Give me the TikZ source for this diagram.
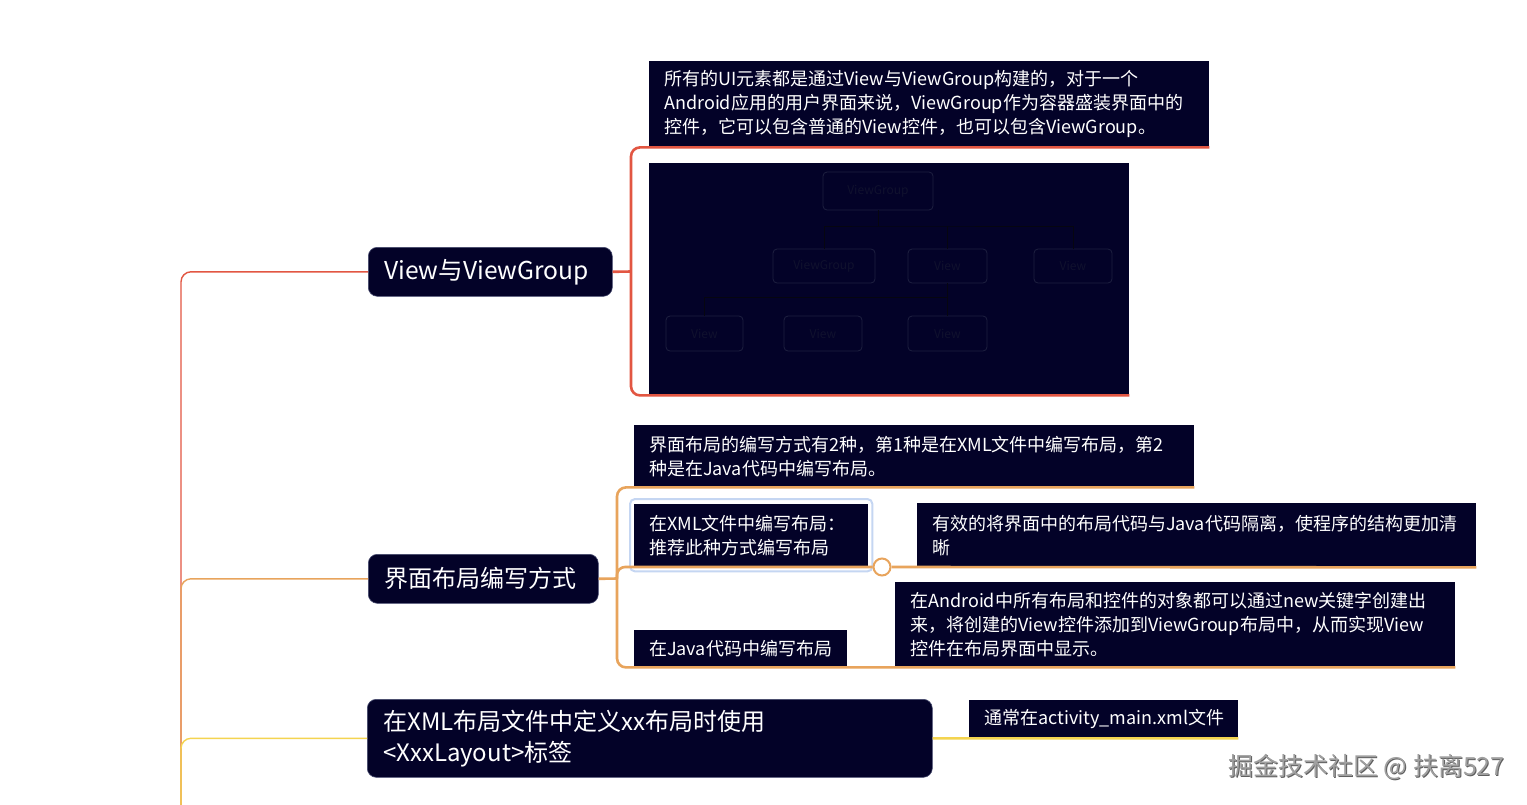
\documentclass[tikz,border=0pt]{standalone}
\usepackage{fontspec}
\setmainfont{Noto Sans CJK SC}
\usetikzlibrary{calc}
\definecolor{navy}{RGB}{3,2,40}
\definecolor{brred}{RGB}{226,86,66}
\definecolor{brorange}{RGB}{232,164,92}
\definecolor{bryellow}{RGB}{244,212,80}
\definecolor{hlblue}{RGB}{197,214,242}
\definecolor{treebox}{RGB}{30,32,64}
\definecolor{treeline}{RGB}{6,6,16}
\definecolor{treetext}{RGB}{16,17,46}
\definecolor{topicedge}{RGB}{70,74,110}
\definecolor{wmgray}{RGB}{160,160,160}
\definecolor{wmshadow}{RGB}{95,95,95}
\tikzset{
  topic/.style={fill=navy, draw=topicedge, line width=0.6, rounded corners=9,
    text=white, font=\fontsize{24}{31}\selectfont, anchor=north west,
    inner xsep=16, inner ysep=0, align=left},
  leaf/.style={fill=navy, text=white, font=\fontsize{18}{24}\selectfont,
    anchor=north west, inner xsep=15, inner ysep=0, align=left},
  trunk/.style={line width=1.4, rounded corners=10},
  branch/.style={line width=2.6, rounded corners=9},
  treebx/.style={draw=treebox, line width=0.8, rounded corners=4, text=treetext,
    font=\fontsize{12}{12}\selectfont, inner sep=0},
  treeln/.style={draw=treeline, line width=1},
  hl/.style={draw=hlblue, line width=2, rounded corners=5},
}
\begin{document}
\begin{tikzpicture}[x=1pt,y=-1pt]
\useasboundingbox (0,0) rectangle (1527,804);
\fill[white] (0,0) rectangle (1527,804);

% topics
\node[topic, text width=212, minimum height=49] (v1) at (368,247) {\fontsize{24.6}{31}\selectfont View与ViewGroup};
\node[topic, text width=198, minimum height=49] (n2) at (368,554) {界面布局编写方式};
\node[topic, text width=533, minimum height=78] (n3) at (367,699) {在XML布局文件中定义xx布局时使用\\<XxxLayout>标签};

% leaves of topic 1
\node[leaf, text width=530, minimum height=86] (d1) at (649,61)
  {所有的UI元素都是通过View与ViewGroup构建的，对于一个\\Android应用的用户界面来说，ViewGroup作为容器盛装界面中的\\控件，它可以包含普通的View控件，也可以包含ViewGroup。};
\node[fill=navy, anchor=north west, minimum width=480, minimum height=232, inner sep=0] (img) at (649,163) {};

% faint tree inside the picture
\node[treebx, minimum width=110, minimum height=38] (t0) at (878,191) {ViewGroup};
\node[treebx, minimum width=102, minimum height=34] (t1) at (824,266) {ViewGroup};
\node[treebx, minimum width=79, minimum height=34] (t2) at (947.5,266) {View};
\node[treebx, minimum width=78, minimum height=34] (t3) at (1073,266) {View};
\node[treebx, minimum width=77, minimum height=35] (t4) at (704.5,333.5) {View};
\node[treebx, minimum width=78, minimum height=35] (t5) at (823,333.5) {View};
\node[treebx, minimum width=79, minimum height=35] (t6) at (947.5,333.5) {View};
\coordinate (j1) at (878,226);
\coordinate (j2) at (947.5,297);
\draw[treeln] (t0.south) -- (j1);
\draw[treeln] (t1.north) |- (j1) -| (t3.north);
\draw[treeln] (t2.north) -- (t2.north |- j1);
\draw[treeln] (t4.north) |- (j2);
\draw[treeln] (t2.south) -- (t6.north);

% leaves of topic 2
\node[leaf, text width=530, minimum height=62] (d2) at (634,425)
  {界面布局的编写方式有2种，第1种是在XML文件中编写布局，第2\\种是在Java代码中编写布局。};
\node[leaf, text width=204, minimum height=63] (xml) at (634,504)
  {在XML文件中编写布局：\\推荐此种方式编写布局};
\draw[hl] ([shift={(-4,-5)}]xml.north west) rectangle ([shift={(4,4)}]xml.south east);
\node[leaf, text width=529, minimum height=64] (eff) at (917,503)
  {有效的将界面中的布局代码与Java代码隔离，使程序的结构更加清\\晰};
\node[leaf, text width=183, minimum height=37] (java) at (634,630) {在Java代码中编写布局};
\node[leaf, text width=530, minimum height=85] (andr) at (895,582)
  {在Android中所有布局和控件的对象都可以通过new关键字创建出\\来，将创建的View控件添加到ViewGroup布局中，从而实现View\\控件在布局界面中显示。};

% leaf of topic 3
\node[leaf, text width=239, minimum height=38] (c3) at (969,700) {通常在activity\_main.xml文件};

% trunk
\coordinate (tb) at (181,812);
\draw[trunk, brred] (tb) |- (v1.west);
\draw[trunk, brorange] (tb) |- (n2.west);
\draw[trunk, bryellow] (tb) |- (n3.west);

% bracket of topic 1
\coordinate (b1) at (631,271.5);
\draw[branch, brred] (d1.south east) -| (b1) |- (img.south east);
\draw[branch, brred] (v1.east) -- (b1);

% bracket of topic 2
\coordinate (b2) at (617,578.5);
\node[circle, draw=brorange, fill=white, line width=2, minimum size=17, inner sep=0] (circ) at (882,567) {};
\draw[branch, brorange] (d2.south east) -| (b2) |- (andr.south east);
\draw[branch, brorange] (n2.east) -- (b2);
\draw[branch, brorange, rounded corners=8] (b2) |- (circ.west);
\draw[branch, brorange] (circ.east) -- (eff.south east);

% topic 3 connector
\draw[branch, bryellow] (n3.east) -- (c3.south west) -- (c3.south east);

% watermark
\node[anchor=west, text=wmshadow, font=\fontsize{25}{25}\selectfont, inner sep=0] (wm0) at (1229,768) {掘金技术社区 @ 扶离527};
\node[anchor=west, text=wmgray, font=\fontsize{25}{25}\selectfont, inner sep=0] (wm) at (1228,767) {掘金技术社区 @ 扶离527};
\end{tikzpicture}
\end{document}
